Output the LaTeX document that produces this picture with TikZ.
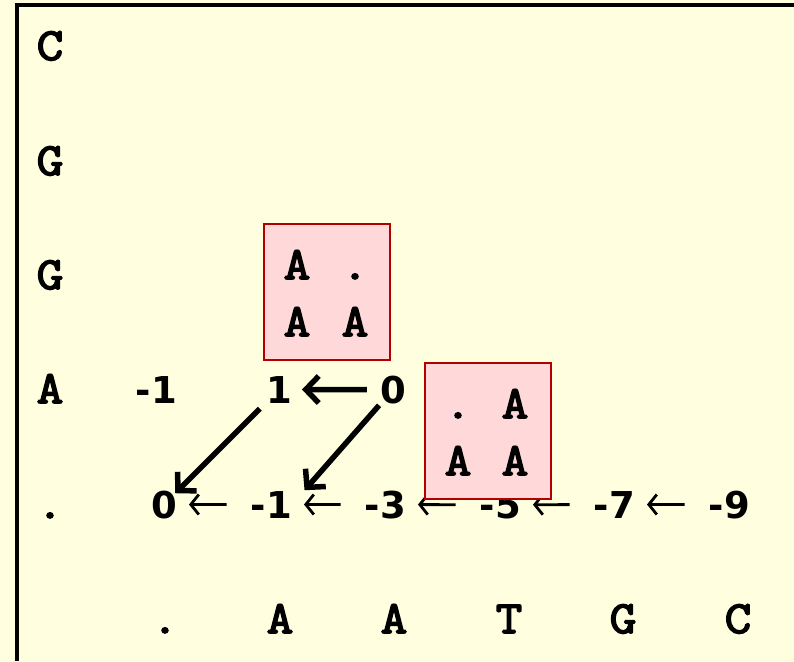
\documentclass[tikz,border=0pt]{standalone}
\usepackage{fontspec}
\usetikzlibrary{arrows.meta}
\newfontfamily\numfont{DejaVu Sans}
\newfontfamily\seqfont{Latin Modern Mono}[FakeBold=3.5,FakeStretch=1.12]
\definecolor{paper}{RGB}{255,255,224}
\definecolor{cellpink}{RGB}{255,217,217}
\definecolor{celledge}{RGB}{176,0,0}
\tikzset{
  seq/.style={font=\seqfont\fontsize{46}{46}\selectfont, inner sep=0pt, anchor=base},
  score/.style={font=\numfont\bfseries\fontsize{37}{37}\selectfont, inner sep=0pt, anchor=base east},
  trace/.style={line width=5.5pt, -{Straight Barb[length=13pt,width=27pt]}},
  link/.style={line width=2.8pt, -{Straight Barb[length=8pt,width=20pt]}, shorten <=24pt, shorten >=12pt},
  cellbox/.style={draw=celledge, fill=cellpink, line width=2.5pt, minimum width=126pt, minimum height=136pt, inner sep=0pt},
}
\begin{document}
\begin{tikzpicture}[x=1pt,y=-1pt]
  % page and frame
  \fill[paper] (0,0) rectangle (794,661);
  \useasboundingbox (0,0) rectangle (794,661);
  \draw[line width=4pt] (17,661) -- (17,5.5) -- (794,5.5);

  % sequence along the rows (read bottom to top)
  \node[seq] (r1) at (50,60)  {C};
  \node[seq] (r2) at (50,175) {G};
  \node[seq] (r3) at (50,289) {G};
  \node[seq] (r4) at (50,403) {A};
  \node[seq] (r5) at (50,518) {.};

  % sequence along the columns
  \node[seq] (c1) at (165,633) {.};
  \node[seq] (c2) at (280,633) {A};
  \node[seq] (c3) at (394,633) {A};
  \node[seq] (c4) at (509,633) {T};
  \node[seq] (c5) at (623,633) {G};
  \node[seq] (c6) at (738,633) {C};

  % scores, row A
  \node[score] (am) at (177,403) {-1};
  \node[score] (a1) at (292,403) {1};
  \node[score] (a0) at (406,403) {0};

  % scores, first row
  \node[score] (b0) at (177,518) {0};
  \node[score] (b1) at (292,518) {-1};
  \node[score] (b2) at (406,518) {-3};
  \node[score] (b3) at (521,518) {-5};
  \node[score] (b4) at (635,518) {-7};
  \node[score] (b5) at (750,518) {-9};

  % gap chain along the first row
  \draw[link] (b1.west) -- (b0.east);
  \draw[link] (b2.west) -- (b1.east);
  \draw[link] (b3.west) -- (b2.east);
  \draw[link] (b4.west) -- (b3.east);
  \draw[link] (b5.west) -- (b4.east);

  % traceback pointers
  \draw[trace, shorten <=26pt, shorten >=23pt] (a0.center) -- (a1.center);
  \draw[trace, shorten <=27pt, shorten >=16pt] (a1.center) -- (b0.center);
  \draw[trace, shorten <=21pt, shorten >=19pt] (a0.center) -- (b1.east);

  % alignment columns
  \node[cellbox] (box1) at (327,292) {};
  \node[seq] (p1) at (297,279) {A};
  \node[seq] (p2) at (355,279) {.};
  \node[seq] (p3) at (297,336) {A};
  \node[seq] (p4) at (355,336) {A};

  \node[cellbox] (box2) at (488,431) {};
  \node[seq] (q1) at (458,418) {.};
  \node[seq] (q2) at (515,418) {A};
  \node[seq] (q3) at (458,475) {A};
  \node[seq] (q4) at (515,475) {A};
\end{tikzpicture}
\end{document}
